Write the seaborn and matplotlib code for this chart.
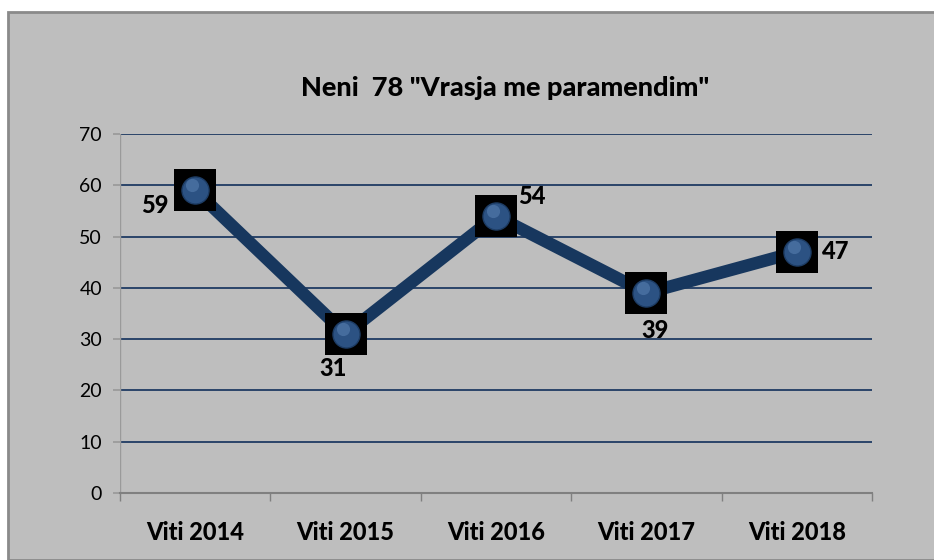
import matplotlib
matplotlib.use("Agg")
import matplotlib.pyplot as plt
import seaborn as sns
from matplotlib.patches import Rectangle

# Dados do gráfico
vitet = ["Viti 2014", "Viti 2015", "Viti 2016", "Viti 2017", "Viti 2018"]
vlerat = [59, 31, 54, 39, 47]
titulli = 'Neni  78 "Vrasja me paramendim"'

# Posição dos rótulos (deslocamento em pontos)
offsets = [(-29, -11), (-9, -25), (26, 14), (6, -27), (28, 0)]

sns.set_theme(style="white")
plt.rcParams["font.family"] = ["Lato", "DejaVu Sans"]

fig = plt.figure(figsize=(9.34, 5.6), dpi=100)
fig.patch.set_facecolor("white")

# Fundo cinza do gráfico
fig.patches.append(Rectangle((8 / 934, 0), 1, 1 - 12 / 560, transform=fig.transFigure,
                             facecolor="#bebebe", edgecolor="#8a8a8a", linewidth=2, zorder=-10))

ax = fig.add_axes([120 / 934, 67 / 560, 752 / 934, 359 / 560])
ax.set_facecolor("none")
ax.set_zorder(5)

sns.lineplot(x=vitet, y=vlerat, ax=ax, color="#17375e", linewidth=9, sort=False, zorder=3)
x = list(range(len(vitet)))
ax.scatter(x, vlerat, marker="s", s=920, color="black", linewidth=0, zorder=4)
ax.scatter(x, vlerat, marker="o", s=380, color="#2c5283", edgecolor="#1d3c64", linewidth=1, zorder=5)
ax.scatter([i - 0.02 for i in x], [v + 1.0 for v in vlerat], marker="o", s=90, color="#5b82b3", alpha=0.55,
           linewidth=0, zorder=6)

for i, v in enumerate(vlerat):
    ax.annotate(str(v), (i, v), xytext=offsets[i], textcoords="offset points",
                ha="center", va="center", fontsize=17, fontweight=900, color="black")

ax.set_xlim(-0.5, 4.5)
ax.set_ylim(0, 70)
ax.set_yticks(range(0, 71, 10))
ax.yaxis.grid(True, color="#1f3b63", linewidth=1.3)
ax.set_axisbelow(True)
for s in ["top", "right", "left"]:
    ax.spines[s].set_visible(False)
ax.spines["bottom"].set_color("#808080")
ax.spines["bottom"].set_linewidth(1.5)
ax.axvline(-0.5, color="#9a9a9a", linewidth=1, zorder=1)

ax.set_xticks(x)
ax.set_xticklabels(vitet, fontsize=17, fontweight=900, color="black")
ax.set_xticks([i - 0.5 for i in range(len(vitet) + 1)], minor=True)
ax.tick_params(axis="x", which="major", length=0, pad=20)
ax.tick_params(axis="x", which="minor", length=6, color="#808080", width=1, bottom=True)
ax.tick_params(axis="y", length=5, color="#9a9a9a", labelsize=14, pad=8, left=True, labelcolor="black")
ax.set_xlabel("")
ax.set_ylabel("")

fig.text(505 / 934, 1 - 88 / 560, titulli, ha="center", va="center", fontsize=19.5,
         fontweight=900, color="black")

fig.savefig("out.png", dpi=100)
